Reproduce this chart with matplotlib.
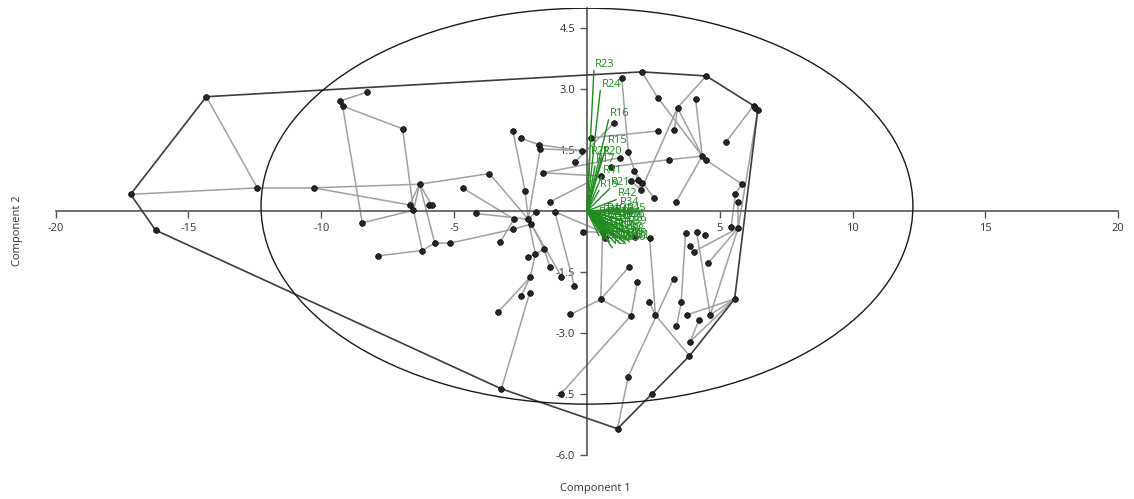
import numpy as np
import matplotlib
matplotlib.use("Agg")
import matplotlib.pyplot as plt
from matplotlib.patches import Ellipse

# PCA scores (Component 1, Component 2)
comp1 = [-14.33, -17.18, -16.24, -12.41, -10.29, -8.29, -9.31, -9.20, -6.94, -6.30,
         -6.68, -6.53, -5.95, -5.85, -8.46, -7.86, -6.20, -5.73, -5.16, -4.66,
         -3.67, -4.19, -2.79, -2.49, -1.81, -1.76, -1.65, -2.33, -2.75, -2.21,
         -2.10, -2.80, -3.27, -1.91, -1.41, -1.21, -1.61, -1.94, -2.23, -1.39,
         -0.96, -2.14, -0.47, -2.47, -2.16, -3.34, -3.22, -0.99, 1.15, -0.16,
         0.52, -0.62, 1.57, 1.66, 1.55, 1.90, 0.59, 0.67, 1.79, 2.36,
         3.71, 4.13, 4.46, 5.43, 5.69, 3.88, 4.02, 4.56, 3.26, 2.35,
         2.58, 3.55, 3.37, 3.77, 4.21, 4.64, 5.56, 3.88, 3.86, 2.43,
         5.68, 3.36, 4.49, 6.27, 6.34, 6.43, 5.24, 4.34, 4.49, 5.84,
         5.59, 1.31, 2.06, 2.66, 3.41, 4.09, 3.29, 2.69, 1.03, 0.16,
         3.07, 1.56, 1.25, 0.91, 1.78, 0.51, 1.65, 1.94, 2.06, 2.04,
         2.53, -0.18, -0.44]
comp2 = [2.81, 0.41, -0.47, 0.57, 0.57, 2.92, 2.70, 2.58, 2.02, 0.66,
         0.15, 0.02, 0.15, 0.15, -0.29, -1.10, -0.97, -0.79, -0.79, 0.56,
         0.92, -0.06, 1.97, 1.79, 1.63, 1.53, 0.94, 0.50, -0.20, -0.20,
         -0.32, -0.45, -0.77, -0.02, 0.22, -0.02, -0.93, -1.06, -1.13, -1.38,
         -1.61, -1.63, -1.84, -2.08, -2.02, -2.48, -4.37, -4.50, -5.35, -0.51,
         -2.17, -2.54, -1.38, -2.57, -4.07, -1.74, -0.52, -0.66, -0.63, -0.67,
         -0.55, -0.52, -0.60, -0.39, -0.42, -0.86, -1.00, -1.28, -1.66, -2.24,
         -2.56, -2.24, -2.83, -2.55, -2.69, -2.55, -2.16, -3.21, -3.56, -4.50,
         0.23, 0.23, 3.32, 2.59, 2.52, 2.48, 1.70, 1.35, 1.25, 0.66,
         0.43, 3.26, 3.42, 2.79, 2.54, 2.75, 1.99, 1.97, 2.17, 1.80,
         1.26, 1.44, 1.31, 1.09, 0.98, 0.86, 0.74, 0.76, 0.68, 0.52,
         0.31, 1.48, 1.21]

# minimum spanning tree links (index pairs)
mst_from = [0, 1, 3, 4, 4, 5, 7, 7, 8, 9, 9, 9, 9, 9, 11, 14, 15, 16, 17, 18,
            31, 19, 21, 22, 27, 23, 25, 20, 28, 29, 30, 29, 37, 37, 36, 37, 41, 41, 44, 30,
            35, 33, 34, 26, 26, 24, 25, 35, 49, 56, 57, 58, 50, 50, 50, 50, 53, 55, 59, 68,
            54, 70, 69, 60, 61, 76, 76, 76, 74, 64, 64, 66, 65, 63, 64, 90, 64, 83, 89, 87,
            95, 94, 94, 94, 92, 93, 91, 99, 87, 103, 100, 98, 101, 104, 106, 107, 71]
mst_to = [3, 3, 4, 9, 10, 6, 8, 14, 11, 20, 10, 11, 13, 17, 16, 11, 16, 17, 18, 31,
          30, 28, 29, 27, 29, 24, 29, 29, 32, 30, 36, 37, 38, 36, 39, 41, 43, 45, 46, 40,
          42, 29, 105, 105, 102, 111, 111, 56, 56, 57, 58, 59, 52, 53, 51, 56, 47, 53, 70, 54,
          48, 78, 70, 71, 75, 73, 75, 77, 77, 67, 75, 64, 66, 90, 80, 89, 85, 86, 88, 94,
          87, 82, 96, 109, 93, 87, 101, 97, 81, 100, 87, 112, 109, 110, 109, 108, 72]

# loadings (biplot vectors)
var_names = ["R23", "R24", "R16", "R15", "R22", "R20", "R17", "R41", "R19", "R21",
             "R42", "R34", "R36", "R9", "R1", "R2", "R3", "R4", "R5", "R6",
             "R7", "R8", "R10", "R11", "R12", "R13", "R14", "R18", "R25", "R26",
             "R27", "R28", "R29", "R30", "R31", "R32", "R33", "R35", "R37", "R38",
             "R39", "R40", "R43", "R44", "R45"]
load1 = [0.26, 0.50, 0.81, 0.72, 0.10, 0.55, 0.30, 0.55, 0.45, 0.85,
         1.10, 1.20, 1.40, 0.95, 0.40, 0.60, 0.80, 1.00, 1.20, 1.40,
         1.55, 1.65, 0.50, 0.70, 0.90, 1.10, 1.30, 1.50, 0.45, 0.65,
         0.85, 1.05, 1.25, 1.45, 1.60, 0.55, 0.75, 0.95, 1.15, 1.35,
         1.50, 0.70, 1.00, 1.25, 1.45]
load2 = [3.45, 2.96, 2.24, 1.58, 1.30, 1.30, 1.10, 0.85, 0.50, 0.55,
         0.28, 0.05, -0.25, -0.90, -0.20, -0.30, -0.35, -0.40, -0.45, -0.50,
         -0.55, -0.60, -0.45, -0.55, -0.60, -0.65, -0.70, -0.70, -0.60, -0.70,
         -0.75, -0.78, -0.80, -0.80, -0.75, -0.15, -0.20, -0.25, -0.30, -0.35,
         -0.40, -0.10, -0.15, -0.20, -0.10]

# 95% ellipse
ell_center = (0.0, 0.12)
ell_width = 24.54
ell_height = 9.73

x_ticks = [-20, -15, -10, -5, 5, 10, 15, 20]
y_ticks = [-6.0, -4.5, -3.0, -1.5, 1.5, 3.0, 4.5]


def convex_hull(pts):
    pts = sorted(set(pts))
    def cross(o, a, b):
        return (a[0] - o[0]) * (b[1] - o[1]) - (a[1] - o[1]) * (b[0] - o[0])
    lower, upper = [], []
    for p in pts:
        while len(lower) >= 2 and cross(lower[-2], lower[-1], p) <= 0:
            lower.pop()
        lower.append(p)
    for p in reversed(pts):
        while len(upper) >= 2 and cross(upper[-2], upper[-1], p) <= 0:
            upper.pop()
        upper.append(p)
    return lower[:-1] + upper[:-1]


plt.rcParams['font.family'] = ['Open Sans', 'DejaVu Sans']
fig = plt.figure(figsize=(11.34, 4.99), dpi=100)
ax = fig.add_axes([0.0491, 0.0878, 0.937, 0.897])
ax.set_xlim(-20, 20)
ax.set_ylim(-6.0, 5.0)

x = np.array(comp1)
y = np.array(comp2)

# MST
for a, b in zip(mst_from, mst_to):
    ax.plot([x[a], x[b]], [y[a], y[b]], color='#a0a0a0', lw=1.1, zorder=2)

# hull
hull = convex_hull(list(zip(comp1, comp2)))
hx = [p[0] for p in hull] + [hull[0][0]]
hy = [p[1] for p in hull] + [hull[0][1]]
ax.plot(hx, hy, color='#3c3c3c', lw=1.2, zorder=3)

# ellipse
ax.add_patch(Ellipse(ell_center, ell_width, ell_height, fill=False,
                     edgecolor='#1a1a1a', lw=1.0, zorder=3))

# points
ax.scatter(x, y, s=17, color='#262626', edgecolors='#000000', linewidths=0.5, zorder=4)

# loadings
green = '#1f8c1f'
for n, l1, l2 in zip(var_names, load1, load2):
    ax.plot([0, l1], [0, l2], color=green, lw=1.0, zorder=5)
    ax.text(l1 + 0.05, l2 + 0.02, n, color=green, fontsize=8, zorder=6,
            ha='left', va='bottom')

# axes through origin
for s in ['top', 'right']:
    ax.spines[s].set_visible(False)
ax.spines['left'].set_position(('data', 0))
ax.spines['bottom'].set_position(('data', 0))
for s in ['left', 'bottom']:
    ax.spines[s].set_color('#555555')
    ax.spines[s].set_linewidth(1.2)
ax.set_xticks(x_ticks)
ax.set_xticklabels([str(t) for t in x_ticks])
ax.set_yticks(y_ticks)
ax.set_yticklabels(['%.1f' % t for t in y_ticks])
ax.tick_params(axis='both', colors='#555555', labelcolor='#333333', labelsize=8,
               length=5, width=1)
ax.patch.set_visible(False)

fig.text(0.525, 0.022, 'Component 1', ha='center', va='center', fontsize=8, color='#333333')
fig.text(0.015, 0.537, 'Component 2', ha='center', va='center', fontsize=8,
         color='#333333', rotation=90)

fig.savefig('out.png', dpi=100)
